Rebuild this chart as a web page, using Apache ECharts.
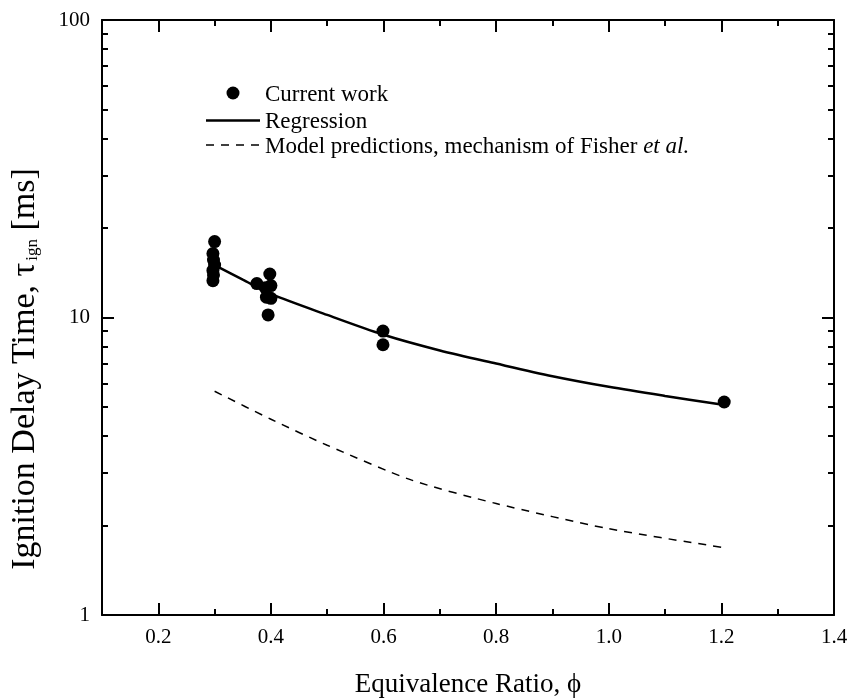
<!DOCTYPE html>
<html>
<head>
<meta charset="utf-8">
<script src="https://cdn.jsdelivr.net/npm/echarts@6/dist/echarts.min.js"></script>
<style>
  html, body { margin: 0; padding: 0; background: #ffffff; }
  #chart { width: 850px; height: 698px; }
</style>
</head>
<body>
<div id="chart"></div>
<script>
// Measured ignition delay times (current work)
const expPhi = [0.300, 0.297, 0.298, 0.300, 0.297, 0.298, 0.297,
                0.375, 0.398, 0.390, 0.400, 0.392, 0.400, 0.395,
                0.599, 0.599, 1.205];
const expTau = [18.0, 16.4, 15.6, 15.0, 14.4, 13.9, 13.3,
                13.0, 14.0, 12.6, 12.8, 11.7, 11.6, 10.2,
                9.0, 8.1, 5.2];

// Regression curve through the measurements
const regPhi = [0.30, 0.35, 0.40, 0.50, 0.60, 0.70, 0.80, 0.90, 1.00, 1.10, 1.20];
const regTau = [15.0, 13.4, 12.0, 10.2, 8.75, 7.75, 7.0, 6.35, 5.85, 5.45, 5.1];

// Model predictions, mechanism of Fisher et al.
const modelPhi = [0.30, 0.40, 0.50, 0.65, 0.80, 1.00, 1.20];
const modelTau = [5.65, 4.55, 3.72, 2.84, 2.37, 1.95, 1.69];

// Axis tick values
const xTickValues = [0.2, 0.4, 0.6, 0.8, 1.0, 1.2, 1.4];
const xMinorTickValues = [0.3, 0.5, 0.7, 0.9, 1.1, 1.3];
const yTickValues = [1, 10, 100];
const yMinorTickValues = [2, 3, 4, 5, 6, 7, 8, 9, 20, 30, 40, 50, 60, 70, 80, 90];

const FONT = '"Liberation Serif", "DejaVu Serif", serif';
const INK = '#000000';

const pairs = (xs, ys) => xs.map((x, i) => [x, ys[i]]);

function xAxisDef(position, ticks, tickLen, withLine, withLabels) {
  return {
    type: 'value', min: 0.1, max: 1.4, position: position,
    axisLine: { show: withLine, onZero: false, lineStyle: { color: INK, width: 2 } },
    axisTick: { show: true, inside: true, length: tickLen, customValues: ticks,
                lineStyle: { color: INK, width: 2 } },
    axisLabel: withLabels ? {
      show: true, customValues: ticks, margin: 12, color: INK,
      fontFamily: FONT, fontSize: 21,
      formatter: v => Number(v).toFixed(1)
    } : { show: false },
    splitLine: { show: false }
  };
}

function yAxisDef(position, ticks, tickLen, withLine, withLabels) {
  return {
    type: 'log', logBase: 10, min: 1, max: 100, position: position,
    axisLine: { show: withLine, onZero: false, lineStyle: { color: INK, width: 2 } },
    axisTick: { show: true, inside: true, length: tickLen, customValues: ticks,
                lineStyle: { color: INK, width: 2 } },
    axisLabel: withLabels ? {
      show: true, customValues: ticks, margin: 12, color: INK,
      fontFamily: FONT, fontSize: 21
    } : { show: false },
    splitLine: { show: false },
    minorTick: { show: false }
  };
}

const xMain = xAxisDef('bottom', xTickValues, 12, true, true);
xMain.name = 'Equivalence Ratio, \u03d5';
xMain.nameLocation = 'middle';
xMain.nameGap = 56;
xMain.nameTextStyle = { fontFamily: FONT, fontSize: 27, color: INK };

const option = {
  backgroundColor: '#ffffff',
  animation: false,
  grid: { left: 102, right: 16, top: 20, bottom: 83, containLabel: false, outerBoundsMode: 'none' },
  xAxis: [
    xMain,
    xAxisDef('bottom', xMinorTickValues, 6, false, false),
    xAxisDef('top', xTickValues, 12, true, false),
    xAxisDef('top', xMinorTickValues, 6, false, false)
  ],
  yAxis: [
    yAxisDef('left', yTickValues, 12, true, true),
    yAxisDef('left', yMinorTickValues, 6, false, false),
    yAxisDef('right', yTickValues, 12, true, false),
    yAxisDef('right', yMinorTickValues, 6, false, false)
  ],
  series: [
    {
      name: 'Model predictions, mechanism of Fisher et al.',
      type: 'line', xAxisIndex: 0, yAxisIndex: 0,
      data: pairs(modelPhi, modelTau),
      showSymbol: false, smooth: 0.25,
      lineStyle: { color: INK, width: 1.5, type: [8, 7] },
      z: 2
    },
    {
      name: 'Regression',
      type: 'line', xAxisIndex: 0, yAxisIndex: 0,
      data: pairs(regPhi, regTau),
      showSymbol: false, smooth: 0.3,
      lineStyle: { color: INK, width: 2.5 },
      z: 3
    },
    {
      name: 'Current work',
      type: 'scatter', xAxisIndex: 0, yAxisIndex: 0,
      data: pairs(expPhi, expTau),
      symbol: 'circle', symbolSize: 13,
      itemStyle: { color: INK, opacity: 1 },
      z: 4
    }
  ],
  graphic: [
    // y-axis title, rotated, with subscript
    { type: 'text', x: 25, y: 369, rotation: Math.PI / 2,
      style: {
        text: '{t|Ignition Delay Time, \u03c4}{s|ign}{t| [ms]}',
        align: 'center', verticalAlign: 'middle', fill: INK,
        rich: {
          t: { fontFamily: FONT, fontSize: 34, fill: INK },
          s: { fontFamily: FONT, fontSize: 17, fill: INK, padding: [16, 0, 0, 2] }
        }
      } },
    // legend
    { type: 'circle', shape: { cx: 233, cy: 93, r: 6.5 }, style: { fill: INK } },
    { type: 'text', left: 265, top: 93 - 10,
      style: { text: 'Current work', font: '23px ' + FONT, fill: INK } },
    { type: 'line', shape: { x1: 206, y1: 120.5, x2: 260, y2: 120.5 },
      style: { stroke: INK, lineWidth: 2.5 } },
    { type: 'text', left: 265, top: 120.5 - 10,
      style: { text: 'Regression', font: '23px ' + FONT, fill: INK } },
    { type: 'line', shape: { x1: 206, y1: 145, x2: 260, y2: 145 },
      style: { stroke: INK, lineWidth: 1.5, lineDash: [8, 7] } },
    { type: 'text', left: 265, top: 145 - 10,
      style: {
        text: '{n|Model predictions, mechanism of Fisher }{i|et al.}',
        font: '23px ' + FONT, fill: INK,
        rich: {
          n: { fontFamily: FONT, fontSize: 23, fill: INK },
          i: { fontFamily: FONT, fontSize: 23, fontStyle: 'italic', fill: INK }
        }
      } }
  ]
};

const chart = echarts.init(document.getElementById('chart'), null, { renderer: 'canvas' });
chart.setOption(option);
</script>
</body>
</html>
